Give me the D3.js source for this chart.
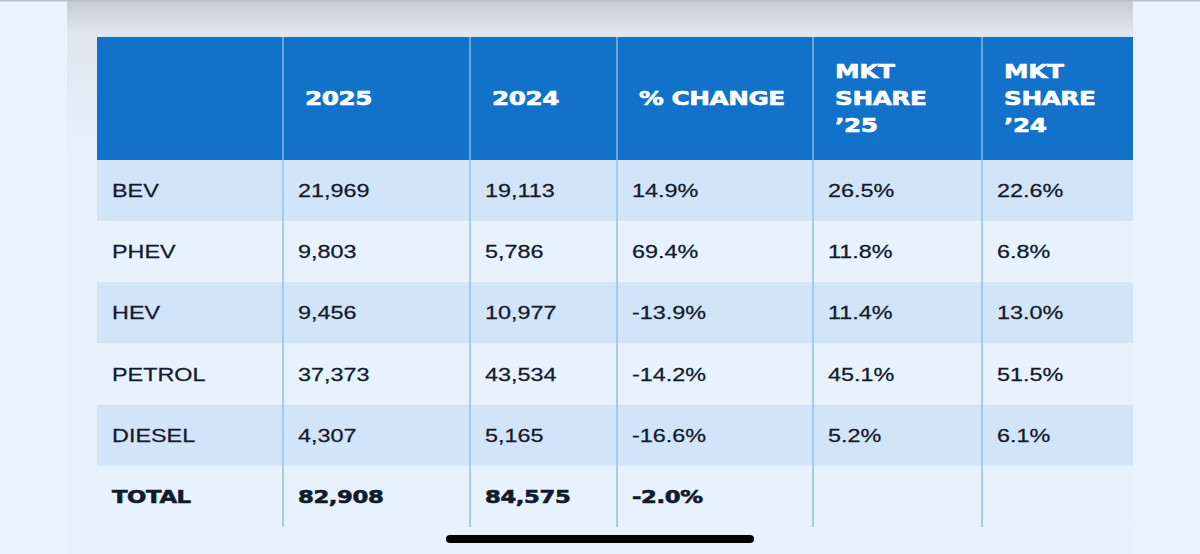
<!DOCTYPE html>
<html>
<head>
<meta charset="utf-8">
<script src="https://cdn.jsdelivr.net/npm/d3@7/dist/d3.min.js"></script>
<style>
  html, body { margin: 0; padding: 0; background: #e9f3fe; overflow: hidden; }
  svg { display: block; }
</style>
</head>
<body>
<svg id="chart" width="1200" height="554"></svg>
<script>
// ---- data ----
const headers = [[""], ["2025"], ["2024"], ["% CHANGE"], ["MKT", "SHARE", "\u201925"], ["MKT", "SHARE", "\u201924"]];
const categories = ["BEV", "PHEV", "HEV", "PETROL", "DIESEL", "TOTAL"];
const sales2025 = [21969, 9803, 9456, 37373, 4307, 82908];
const sales2024 = [19113, 5786, 10977, 43534, 5165, 84575];
const pctChange = [14.9, 69.4, -13.9, -14.2, -16.6, -2.0];
const share2025 = [26.5, 11.8, 11.4, 45.1, 5.2, null];
const share2024 = [22.6, 6.8, 13.0, 51.5, 6.1, null];

// ---- layout ----
const W = 1200, H = 554;
const colEdges = [97, 283, 470, 617, 813, 982, 1133];
const headerTop = 37, headerBottom = 160, tableBottom = 527;

const loc = d3.formatLocale({decimal: ".", thousands: ",", grouping: [3], currency: ["", ""], minus: "-"});
const fInt = loc.format(",");
const fPct = v => v == null ? "" : loc.format(".1f")(v) + "%";

const svg = d3.select("#chart");
const defs = svg.append("defs");
const sh = defs.append("linearGradient").attr("id", "shadow").attr("x1", 0).attr("y1", 0).attr("x2", 0).attr("y2", 1);
sh.append("stop").attr("offset", "0%").attr("stop-color", "#c4cbd4");
sh.append("stop").attr("offset", "100%").attr("stop-color", "#e2e8ef");
const sideL = defs.append("linearGradient").attr("id", "sideL").attr("x1", 0).attr("y1", 0).attr("x2", 0).attr("y2", 1);
sideL.append("stop").attr("offset", "0%").attr("stop-color", "#dfe6ee");
sideL.append("stop").attr("offset", "100%").attr("stop-color", "#e7f1fc");

// background
svg.append("rect").attr("width", W).attr("height", H).attr("fill", "#e9f3fe");
// card
svg.append("rect").attr("x", 67).attr("y", 0).attr("width", 1133 - 67).attr("height", H).attr("fill", "#e7f1fc");
svg.append("rect").attr("x", 67).attr("y", 0).attr("width", 1133 - 67).attr("height", 35).attr("fill", "url(#shadow)");
svg.append("rect").attr("x", 67).attr("y", 35).attr("width", 30).attr("height", 120).attr("fill", "url(#sideL)");
svg.append("rect").attr("x", 0).attr("y", 0).attr("width", W).attr("height", 1.5).attr("fill", "#b9c1cb");
svg.append("rect").attr("x", 97).attr("y", 35).attr("width", 1133 - 97).attr("height", 2).attr("fill", "#d6e6f5");

// scales
const y = d3.scaleBand().domain(categories).range([headerBottom, tableBottom]).padding(0);
const x = d3.scaleOrdinal().domain(d3.range(6)).range(colEdges.slice(0, 6));

// header
svg.append("rect").attr("x", colEdges[0]).attr("y", headerTop)
  .attr("width", colEdges[6] - colEdges[0]).attr("height", headerBottom - headerTop).attr("fill", "#1272c9");

// rows
svg.selectAll("rect.row").data(categories).join("rect").attr("class", "row")
  .attr("x", colEdges[0]).attr("y", d => y(d))
  .attr("width", colEdges[6] - colEdges[0]).attr("height", y.bandwidth())
  .attr("fill", (d, i) => i % 2 === 0 ? "#d2e5f8" : "#e7f2fd");

// vertical lines
svg.selectAll("line.col").data(colEdges.slice(1, 6)).join("line").attr("class", "col")
  .attr("x1", d => d).attr("x2", d => d).attr("y1", headerTop).attr("y2", tableBottom)
  .attr("stroke", "#8fbde9").attr("stroke-width", 1.4);

// header text
const hMid = (headerTop + headerBottom) / 2;
const hLine = 27;
headers.forEach((lines, ci) => {
  lines.forEach((t, li) => {
    const by = hMid + 6.5 + (li - (lines.length - 1) / 2) * hLine;
    svg.append("text")
      .attr("transform", `translate(${x(ci) + 22},${by}) scale(1.3,1)`)
      .attr("font-family", "'DejaVu Sans', sans-serif")
      .attr("font-weight", "bold").attr("font-size", 19)
      .attr("letter-spacing", -0.3)
      .attr("fill", "#ffffff").attr("stroke", "#ffffff").attr("stroke-width", 0.6)
      .text(t);
  });
});

// body text
const cols = [
  d => d,
  (d, i) => fInt(sales2025[i]),
  (d, i) => fInt(sales2024[i]),
  (d, i) => fPct(pctChange[i]),
  (d, i) => fPct(share2025[i]),
  (d, i) => fPct(share2024[i])
];
categories.forEach((cat, ri) => {
  const isTotal = cat === "TOTAL";
  const by = y(cat) + y.bandwidth() / 2 + 6.5;
  cols.forEach((fn, ci) => {
    const t = fn(cat, ri);
    if (!t) return;
    svg.append("text")
      .attr("transform", `translate(${x(ci) + 15},${by}) scale(1.3,1)`)
      .attr("font-family", isTotal ? "'DejaVu Sans', sans-serif" : "'Liberation Sans', Arial, sans-serif")
      .attr("font-weight", isTotal ? "bold" : "normal")
      .attr("font-size", isTotal ? 17.5 : 18)
      .attr("letter-spacing", isTotal ? -0.3 : 0)
      .attr("fill", "#121b2c").attr("stroke", "#121b2c")
      .attr("stroke-width", isTotal ? 0.6 : 0.25)
      .text(t);
  });
});

// home indicator
svg.append("rect").attr("x", 446).attr("y", 535).attr("width", 308).attr("height", 8)
  .attr("rx", 4).attr("fill", "#000");
</script>
</body>
</html>
